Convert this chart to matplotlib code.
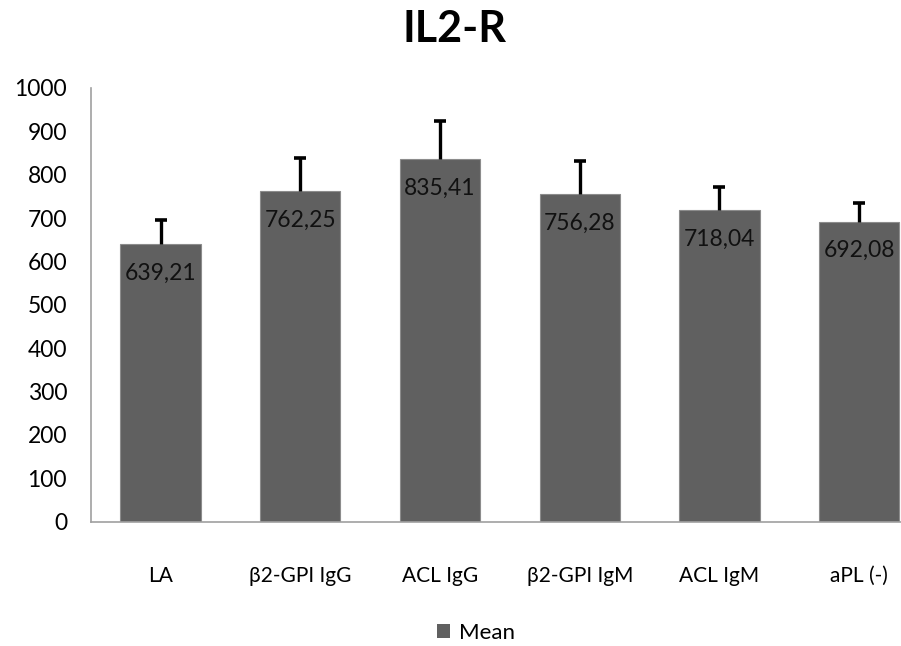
import numpy as np
import matplotlib.pyplot as plt
from matplotlib.patches import Patch

plt.rcParams['font.family'] = ['Lato', 'DejaVu Sans']

categories = ['LA', 'β2-GPI IgG', 'ACL IgG', 'β2-GPI IgM', 'ACL IgM', 'aPL (-)']
means = [639.21, 762.25, 835.41, 756.28, 718.04, 692.08]
errors = [56.4, 76.4, 89.2, 74.7, 54.4, 42.7]
value_labels = ['639,21', '762,25', '835,41', '756,28', '718,04', '692,08']

W, H = 901, 646
fig = plt.figure(figsize=(W / 100, H / 100), dpi=100)
# plot area runs off the right edge of the picture, like the original
left, right = 90.7, 929.0
bottom, top = 521.7, 88.0
ax = fig.add_axes([left / W, 1 - bottom / H, (right - left) / W, (bottom - top) / H])

x = np.arange(len(categories))
means_a = np.array(means)
errors_a = np.array(errors)
bar_color = '#606060'
ax.bar(x, means_a, width=0.575, color=bar_color, edgecolor='#8c8c8c', linewidth=0.8, zorder=2)
# only the upper half of the error bar, with a cap on top
ax.vlines(x, means_a, means_a + errors_a, color='black', linewidth=2.4, zorder=3)
ax.plot(x, means_a + errors_a, linestyle='none', marker='_', markersize=9,
        markeredgewidth=2.6, color='black', zorder=3)

for xi, m, lab in zip(x, means, value_labels):
    ax.annotate(lab, (xi, m), xytext=(0, -21), textcoords='offset points',
                ha='center', va='center', fontsize=16.5, color='#111111', zorder=4)

ax.set_xlim(-0.5, len(categories) - 0.5)
ax.set_ylim(0, 1000)
ax.set_yticks(np.arange(0, 1001, 100))
ax.set_xticks(x)
ax.set_xticklabels(categories)
ax.tick_params(axis='y', length=0, pad=17, labelsize=16.5)
ax.tick_params(axis='x', length=0, pad=32, labelsize=15)

for s in ['top', 'right']:
    ax.spines[s].set_visible(False)
ax.spines['left'].set_color('#a0a0a0')
ax.spines['bottom'].set_color('#a0a0a0')
ax.spines['left'].set_linewidth(1.2)
ax.spines['bottom'].set_linewidth(1.2)

fig.text(455 / W, 1 - 29 / H, 'IL2-R', ha='center', va='center',
         fontsize=31, fontweight='bold')

fig.legend(handles=[Patch(facecolor=bar_color, edgecolor='none', label='Mean')],
           loc='center', bbox_to_anchor=(476 / W, 1 - 633 / H), frameon=False,
           fontsize=16, handlelength=0.6, handleheight=0.6, handletextpad=0.4,
           borderpad=0, borderaxespad=0)

fig.savefig('out.png', dpi=100)
